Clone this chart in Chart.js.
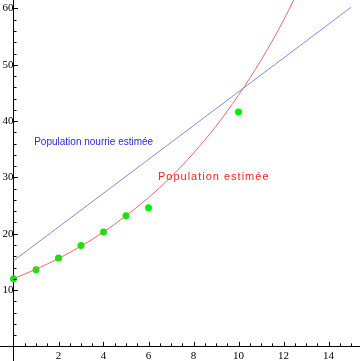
<!DOCTYPE html>
<html>
<head>
<meta charset="utf-8">
<script src="https://cdn.jsdelivr.net/npm/chart.js@4/dist/chart.umd.min.js"></script>
<style>
  html, body { margin: 0; padding: 0; background: #fff; }
  #wrap { width: 360px; height: 361px; }
</style>
</head>
<body>
<div id="wrap"><canvas id="chart" width="360" height="361"></canvas></div>
<script>
// Population: observed points, fitted curve and "fed population" line

// observed population (green dots)
const obsX = [0, 1, 2, 3, 4, 5, 6, 10];
const obsY = [12.0, 13.6, 15.7, 17.9, 20.3, 23.2, 24.6, 41.6];

// estimated population curve (red), read at whole years
const curveX = [0, 1, 2, 3, 4, 5, 6, 7, 8, 9, 10, 11, 12, 13];
const curveY = [12.0, 13.7, 15.6, 17.8, 20.3, 23.2, 26.4, 30.1, 34.3, 39.1, 44.6, 50.8, 57.9, 66.0];

// estimated fed population (blue line)
const lineX = [0, 15];
const lineY = [15.2, 60.2];

// tick labels
const xTicks = [2, 4, 6, 8, 10, 12, 14];
const yTicks = [10, 20, 30, 40, 50, 60];

const colors = {
    dots: '#00ee00',
    curve: '#e86a6a',
    line: '#8a88dc',
    curveText: '#ff2020',
    lineText: '#2a2ae0'
};

const toPts = (xs, ys) => xs.map((x, i) => ({ x: x, y: ys[i] }));

// no label overflow padding, the axes sit inside the plot
const noPad = s => {
    s.paddingTop = 0;
    s.paddingBottom = 0;
    s.paddingLeft = 0;
    s.paddingRight = 0;
};

// Mathematica style inward ticks + text labels
const decor = {
    id: 'decor',
    afterDatasetsDraw(chart) {
        const ctx = chart.ctx;
        const xs = chart.scales.x, ys = chart.scales.y;
        const x0 = xs.getPixelForValue(0), y0 = ys.getPixelForValue(0);
        ctx.save();
        ctx.strokeStyle = '#000';
        ctx.lineWidth = 1;
        ctx.beginPath();
        for (let v = 0.5; v <= 15.4; v += 0.5) {
            const px = Math.round(xs.getPixelForValue(v)) + 0.5;
            const len = (v % 2 === 0) ? 4.5 : 3;
            ctx.moveTo(px, y0);
            ctx.lineTo(px, y0 - len);
        }
        for (let v = 2; v <= 61; v += 2) {
            const py = Math.round(ys.getPixelForValue(v)) + 0.5;
            const major = v % 10 === 0;
            ctx.moveTo(major ? x0 - 1 : x0, py);
            ctx.lineTo(x0 + (major ? 4.5 : 3), py);
        }
        ctx.stroke();

        ctx.font = '10px "Liberation Sans", Arial, sans-serif';
        ctx.textBaseline = 'alphabetic';
        ctx.fillStyle = colors.lineText;
        ctx.fillText('Population nourrie estimée', xs.getPixelForValue(0.92), ys.getPixelForValue(35.7));
        ctx.font = '11px "Liberation Sans", Arial, sans-serif';
        ctx.letterSpacing = '1px';
        ctx.fillStyle = colors.curveText;
        ctx.fillText('Population estimée', xs.getPixelForValue(6.42), ys.getPixelForValue(29.5));
        ctx.restore();
    }
};

const tickFont = { family: '"Liberation Serif", "Times New Roman", serif', size: 11 };

new Chart(document.getElementById('chart'), {
    type: 'scatter',
    data: {
        datasets: [{
            label: 'Population nourrie estimée',
            data: toPts(lineX, lineY),
            showLine: true,
            borderColor: colors.line,
            borderWidth: 1,
            pointRadius: 0
        }, {
            label: 'Population estimée',
            data: toPts(curveX, curveY),
            showLine: true,
            borderColor: colors.curve,
            borderWidth: 1,
            pointRadius: 0,
            cubicInterpolationMode: 'monotone'
        }, {
            label: 'Population',
            data: toPts(obsX, obsY),
            backgroundColor: colors.dots,
            borderWidth: 0,
            pointRadius: 3.5
        }]
    },
    options: {
        responsive: false,
        animation: false,
        devicePixelRatio: 1,
        layout: { padding: 0, autoPadding: false },
        plugins: {
            legend: { display: false },
            tooltip: { enabled: false }
        },
        scales: {
            x: {
                type: 'linear',
                min: -0.6,
                max: 15.4,
                position: { y: 0 },
                afterBuildTicks: s => { s.ticks = xTicks.map(v => ({ value: v })); },
                afterFit: noPad,
                grid: { display: false, drawTicks: false },
                border: { display: true, color: '#000', width: 1 },
                ticks: { autoSkip: false, maxRotation: 0, padding: 3, color: '#000', font: tickFont }
            },
            y: {
                type: 'linear',
                min: -2.6,
                max: 61.5,
                position: { x: 0 },
                afterBuildTicks: s => { s.ticks = yTicks.map(v => ({ value: v })); },
                afterFit: noPad,
                grid: { display: false, drawTicks: false },
                border: { display: true, color: '#000', width: 1 },
                ticks: { autoSkip: false, padding: 3, color: '#000', font: tickFont }
            }
        }
    },
    plugins: [decor]
});
</script>
</body>
</html>
